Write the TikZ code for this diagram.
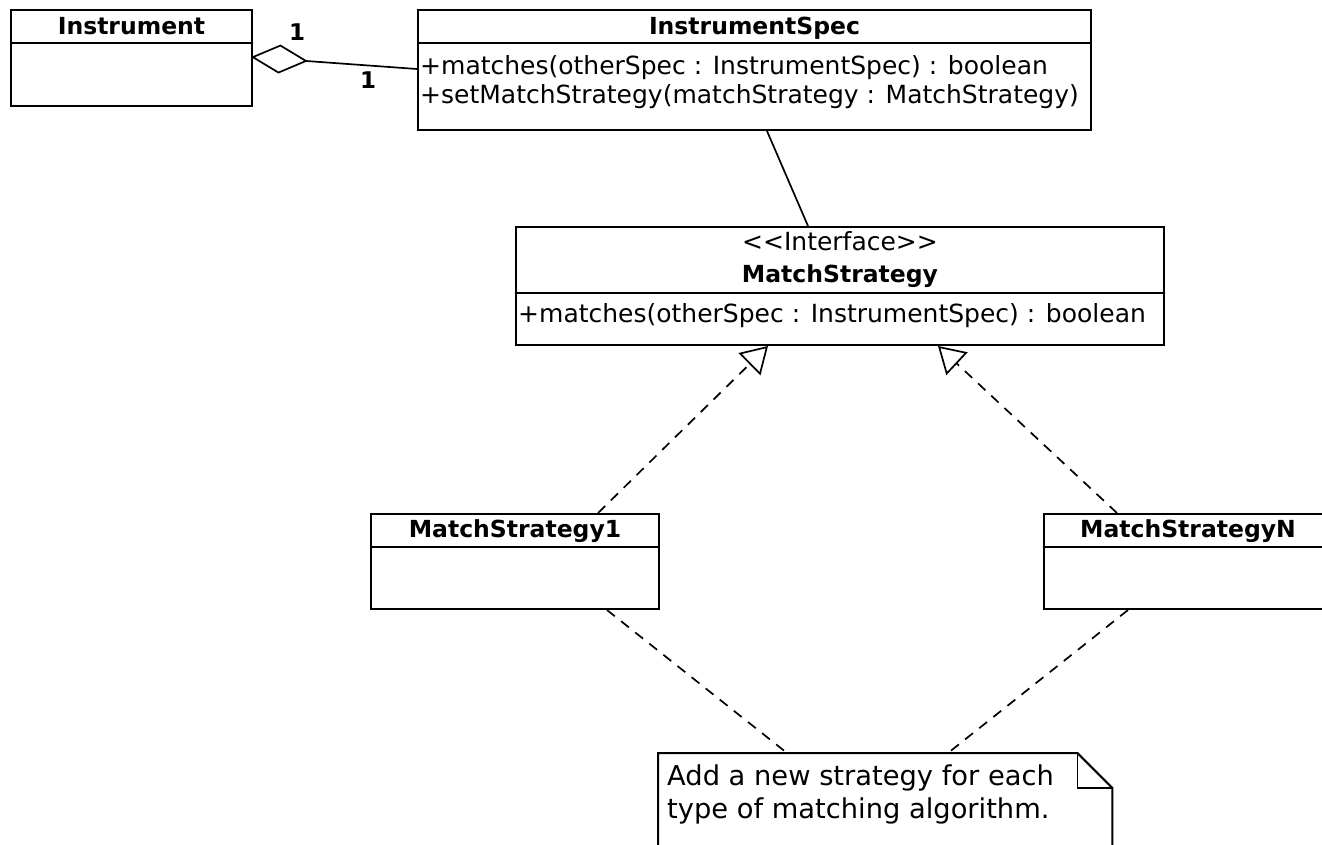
\documentclass[tikz,border=0pt]{standalone}
\usepackage{fontspec}
\setmainfont{DejaVu Sans}
\usetikzlibrary{arrows.meta,calc}
\begin{document}
\begin{tikzpicture}[x=1pt,y=-1pt,
  classbox/.style={draw, line width=2pt, rectangle, inner sep=0pt, anchor=north west},
  sepline/.style={line width=2pt},
  classname/.style={font=\fontsize{23.5}{28}\selectfont\bfseries, anchor=base, inner sep=0pt},
  stereo/.style={font=\fontsize{25}{29}\selectfont, anchor=base, inner sep=0pt},
  member/.style={font=\fontsize{25}{29}\selectfont, anchor=base west, inner sep=0pt},
  multlabel/.style={font=\fontsize{23}{28}\selectfont\bfseries, inner sep=0pt},
  notetext/.style={font=\fontsize{27.3}{33}\selectfont, anchor=base west, inner sep=0pt},
  link/.style={line width=1.7pt},
  realize/.style={line width=1.7pt, dash pattern=on 10pt off 8pt,
    -{Triangle[open, length=26pt, width=31pt, line width=1.7pt]}},
  notelink/.style={line width=1.7pt, dash pattern=on 10pt off 8pt},
]
\useasboundingbox (0,0) rectangle (1322,844);

% ---- Instrument ----
\node[classbox, minimum width=241pt, minimum height=96pt] (instr) at (10,9) {};
\draw[sepline] ($(instr.north west)+(0,34)$) -- ($(instr.north east)+(0,34)$);
\node[classname] (instr-name) at ($(instr.north)+(0,25)$) {Instrument};

% ---- InstrumentSpec ----
\node[classbox, minimum width=673pt, minimum height=120pt] (spec) at (417,9) {};
\draw[sepline] ($(spec.north west)+(0,34)$) -- ($(spec.north east)+(0,34)$);
\node[classname] (spec-name) at ($(spec.north)+(0,25)$) {InstrumentSpec};
\node[member] (spec-m1) at ($(spec.north west)+(3,65)$) {+matches(otherSpec : InstrumentSpec) : boolean};
\node[member] (spec-m2) at ($(spec.north west)+(3,94)$) {+setMatchStrategy(matchStrategy : MatchStrategy)};

% ---- MatchStrategy interface ----
\node[classbox, minimum width=648pt, minimum height=118pt] (iface) at (515,226) {};
\draw[sepline] ($(iface.north west)+(0,67)$) -- ($(iface.north east)+(0,67)$);
\node[stereo] (iface-st) at ($(iface.north)+(0,24)$) {{<}{<}Interface{>}{>}};
\node[classname] (iface-name) at ($(iface.north)+(0,56)$) {MatchStrategy};
\node[member] (iface-m1) at ($(iface.north west)+(3,96)$) {+matches(otherSpec : InstrumentSpec) : boolean};

% ---- Concrete strategies ----
\node[classbox, minimum width=288pt, minimum height=95pt] (ms1) at (370,513) {};
\draw[sepline] ($(ms1.north west)+(0,34)$) -- ($(ms1.north east)+(0,34)$);
\node[classname] (ms1-name) at ($(ms1.north)+(0,24)$) {MatchStrategy1};

\node[classbox, minimum width=288pt, minimum height=95pt] (msn) at (1043,513) {};
\draw[sepline] ($(msn.north west)+(0,34)$) -- ($(msn.north east)+(0,34)$);
\node[classname] (msn-name) at ($(msn.north)+(0,24)$) {MatchStrategyN};

% ---- Note with folded corner ----
\node[inner sep=0pt, minimum width=454pt, minimum height=120pt, anchor=north west] (note) at (658,753) {};
\draw[sepline, line join=miter]
  (note.south west) -- (note.north west) -- ($(note.north east)+(-35,0)$)
  -- ($(note.north east)+(0,35)$) -- (note.south east);
\draw[sepline, line width=1.8pt] ($(note.north east)+(-35,0)$) -- ($(note.north east)+(-35,35)$)
  -- ($(note.north east)+(0,35)$);
\node[notetext] (note-l1) at ($(note.north west)+(9,32)$) {Add a new strategy for each};
\node[notetext] (note-l2) at ($(note.north west)+(9,65)$) {type of matching algorithm.};

% ---- Aggregation Instrument <>-- InstrumentSpec ----
\draw[link, -{Diamond[open, length=57pt, width=29pt, line width=1.7pt]}]
  ($(spec.north west)+(0,60)$) -- ($(instr.north east)+(-2,48)$);
\node[multlabel] (mult-a) at (297,32) {1};
\node[multlabel] (mult-b) at (368,80) {1};

% ---- Association InstrumentSpec -- MatchStrategy ----
\draw[link] ($(spec.south west)+(350,0)$) -- ($(iface.north west)+(293,0)$);

% ---- Realizations ----
\draw[realize] ($(ms1.north west)+(228,0)$) -- ($(iface.south west)+(253,0)$);
\draw[realize] ($(msn.north west)+(74,0)$) -- ($(iface.south west)+(423,0)$);

% ---- Note anchors ----
\draw[notelink] ($(ms1.south west)+(237,0)$) -- ($(note.north west)+(129,0)$);
\draw[notelink] ($(msn.south west)+(85,0)$) -- ($(note.north west)+(290,0)$);
\end{tikzpicture}
\end{document}
